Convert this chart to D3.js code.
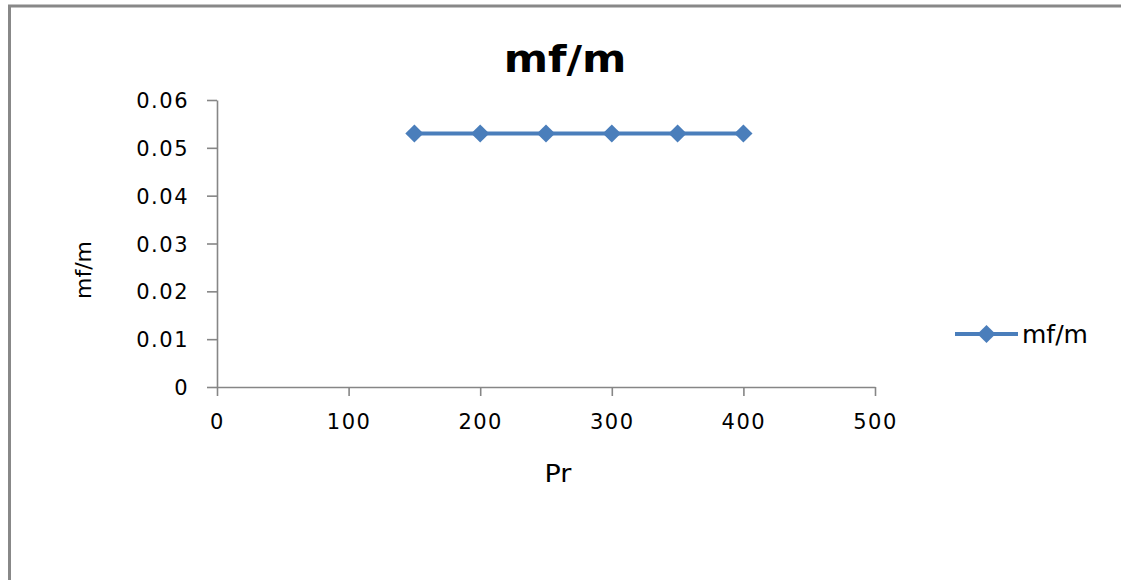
<!DOCTYPE html>
<html>
<head>
<meta charset="utf-8">
<script src="https://cdn.jsdelivr.net/npm/d3@7"></script>
<style>
  html, body { margin: 0; padding: 0; background: #fff; }
  svg { display: block; }
  text { font-family: "DejaVu Sans", Verdana, sans-serif; fill: #000; }
</style>
</head>
<body>
<svg id="chart" width="1121" height="580"></svg>
<script>
// Series: mf/m against Pr
const seriesName = "mf/m";
const prValues = [150, 200, 250, 300, 350, 400];
const mfmValues = [0.053, 0.053, 0.053, 0.053, 0.053, 0.053];
const xTicks = [0, 100, 200, 300, 400, 500];
const yTicks = [0, 0.01, 0.02, 0.03, 0.04, 0.05, 0.06];

const svg = d3.select("#chart");
const lineColor = "#4a7ebb";
const axisColor = "#868686";

// chart frame (runs past the right and bottom edges)
svg.append("rect")
  .attr("x", 9.5).attr("y", 6)
  .attr("width", 1120).attr("height", 600)
  .attr("fill", "#fff")
  .attr("stroke", "#888").attr("stroke-width", 3);

const x = d3.scaleLinear().domain([0, 500]).range([217, 875]);
const y = d3.scaleLinear().domain([0, 0.06]).range([387, 100]);

// y axis
const yAxis = svg.append("g")
  .attr("transform", `translate(${x(0)},0)`)
  .call(d3.axisLeft(y).tickValues(yTicks).tickSize(10).tickSizeOuter(0).tickPadding(18)
    .tickFormat(d => d === 0 ? "0" : d3.format(".2f")(d)));

// x axis
const xAxis = svg.append("g")
  .attr("transform", `translate(0,${y(0)})`)
  .call(d3.axisBottom(x).tickValues(xTicks).tickSize(9).tickSizeOuter(0).tickPadding(18)
    .tickFormat(d3.format("d")));

[yAxis, xAxis].forEach(g => {
  g.select(".domain").attr("stroke", axisColor).attr("stroke-width", 1.6);
  g.selectAll(".tick line").attr("stroke", axisColor).attr("stroke-width", 1.6);
  g.selectAll(".tick text")
    .attr("font-family", "DejaVu Sans, Verdana, sans-serif")
    .attr("font-size", 21)
    .attr("letter-spacing", 1.5)
    .attr("fill", "#000");
});
yAxis.selectAll(".tick text").attr("dy", "0.36em");
xAxis.selectAll(".tick text").attr("dy", "0.72em");

// series line
const line = d3.line()
  .x((d, i) => x(prValues[i]))
  .y(d => y(d));

svg.append("path")
  .datum(mfmValues)
  .attr("fill", "none")
  .attr("stroke", lineColor)
  .attr("stroke-width", 4)
  .attr("d", line);

// diamond markers
const marker = d3.symbol().type(d3.symbolSquare).size(165);
svg.selectAll(".marker")
  .data(mfmValues)
  .join("path")
  .attr("class", "marker")
  .attr("transform", (d, i) => `translate(${x(prValues[i])},${y(d)}) rotate(45)`)
  .attr("d", marker)
  .attr("fill", lineColor);

// title
svg.append("text")
  .attr("transform", "translate(565,72) scale(1.12,1)")
  .attr("text-anchor", "middle")
  .attr("font-size", 38)
  .attr("font-weight", "bold")
  .text(seriesName);

// axis titles
svg.append("text")
  .attr("transform", "translate(558,482) scale(1.08,1)")
  .attr("text-anchor", "middle")
  .attr("font-size", 25)
  .text("Pr");

svg.append("text")
  .attr("transform", "translate(91,270) rotate(-90)")
  .attr("text-anchor", "middle")
  .attr("font-size", 22)
  .text(seriesName);

// legend
const legend = svg.append("g");
legend.append("line")
  .attr("x1", 955).attr("x2", 1018)
  .attr("y1", 334).attr("y2", 334)
  .attr("stroke", lineColor).attr("stroke-width", 4);
legend.append("path")
  .attr("transform", "translate(986.5,334) rotate(45)")
  .attr("d", marker)
  .attr("fill", lineColor);
legend.append("text")
  .attr("x", 1022).attr("y", 343)
  .attr("font-size", 25)
  .text(seriesName);
</script>
</body>
</html>
